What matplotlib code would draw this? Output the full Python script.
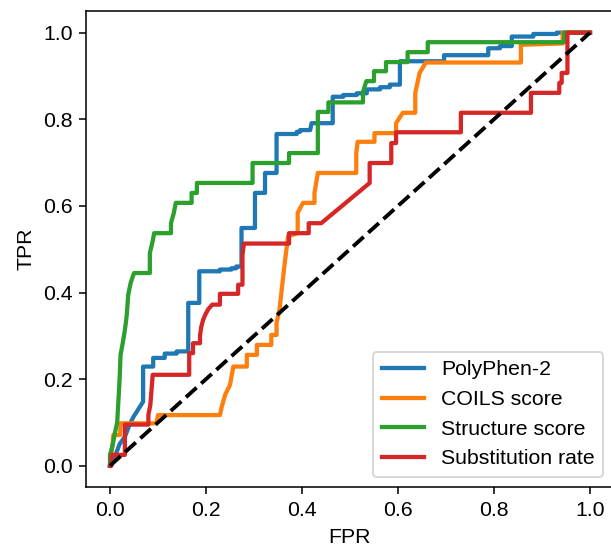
import matplotlib
matplotlib.use("Agg")
import matplotlib.pyplot as plt

plt.rcParams['font.family'] = ['Liberation Sans', 'DejaVu Sans']
plt.rcParams['font.size'] = 11

# PolyPhen-2
poly_fpr = [0.0, 0.010, 0.020, 0.031, 0.042, 0.049, 0.069, 0.069, 0.090, 0.090, 0.114, 0.114,
            0.139, 0.139, 0.163, 0.163, 0.186, 0.186, 0.229, 0.229, 0.253, 0.253, 0.263, 0.263,
            0.274, 0.274, 0.302, 0.302, 0.323, 0.323, 0.347, 0.347, 0.389, 0.389, 0.396, 0.396,
            0.417, 0.420, 0.464, 0.464, 0.486, 0.486, 0.514, 0.514, 0.535, 0.535, 0.5625, 0.5625,
            0.583, 0.583, 0.604, 0.604, 0.696, 0.696, 0.788, 0.788, 0.8125, 0.8125, 0.837, 0.837,
            0.882, 0.882, 0.931, 0.931, 1.0]
poly_tpr = [0.0, 0.020, 0.050, 0.067, 0.098, 0.113, 0.148, 0.229, 0.229, 0.249, 0.249, 0.259,
            0.259, 0.264, 0.264, 0.376, 0.376, 0.449, 0.449, 0.453, 0.453, 0.456, 0.456, 0.460,
            0.460, 0.549, 0.549, 0.630, 0.630, 0.676, 0.676, 0.766, 0.766, 0.771, 0.771, 0.775,
            0.775, 0.791, 0.791, 0.852, 0.852, 0.856, 0.856, 0.860, 0.860, 0.869, 0.869, 0.874,
            0.874, 0.880, 0.880, 0.934, 0.934, 0.948, 0.948, 0.964, 0.964, 0.969, 0.969, 0.991,
            0.991, 0.997, 0.997, 1.0, 1.0]

# COILS score
coils_fpr = [0.0, 0.002, 0.005, 0.007, 0.021, 0.022, 0.097, 0.100, 0.229, 0.233, 0.240, 0.250,
             0.257, 0.285, 0.285, 0.306, 0.306, 0.336, 0.336, 0.347, 0.347, 0.353, 0.357, 0.364,
             0.371, 0.391, 0.391, 0.402, 0.426, 0.426, 0.433, 0.513, 0.513, 0.516, 0.551, 0.551,
             0.596, 0.596, 0.610, 0.636, 0.636, 0.645, 0.658, 0.856, 0.856, 0.943, 0.943, 1.0]
coils_tpr = [0.0, 0.020, 0.045, 0.071, 0.071, 0.098, 0.098, 0.117, 0.117, 0.137, 0.164, 0.187,
             0.229, 0.229, 0.256, 0.256, 0.279, 0.279, 0.302, 0.302, 0.330, 0.360, 0.399, 0.468,
             0.530, 0.537, 0.584, 0.607, 0.607, 0.630, 0.676, 0.676, 0.722, 0.748, 0.748, 0.768,
             0.768, 0.791, 0.815, 0.815, 0.861, 0.907, 0.931, 0.931, 0.972, 0.975, 1.0, 1.0]

# Structure score
struct_fpr = [0.0, 0.0, 0.006, 0.010, 0.015, 0.017, 0.020, 0.022, 0.026, 0.030, 0.033, 0.035,
              0.038, 0.043, 0.050, 0.083, 0.083, 0.088, 0.092, 0.127, 0.127, 0.133, 0.137, 0.170,
              0.170, 0.181, 0.181, 0.297, 0.297, 0.373, 0.373, 0.433, 0.433, 0.455, 0.455, 0.527,
              0.527, 0.534, 0.550, 0.550, 0.575, 0.575, 0.620, 0.620, 0.662, 0.662, 0.946, 0.946,
              1.0]
struct_tpr = [0.0, 0.025, 0.050, 0.075, 0.100, 0.140, 0.200, 0.256, 0.280, 0.306, 0.330, 0.349,
              0.395, 0.422, 0.445, 0.445, 0.491, 0.514, 0.537, 0.537, 0.560, 0.584, 0.607, 0.607,
              0.630, 0.630, 0.653, 0.653, 0.699, 0.699, 0.722, 0.722, 0.817, 0.817, 0.839, 0.839,
              0.863, 0.888, 0.888, 0.911, 0.911, 0.932, 0.932, 0.955, 0.955, 0.978, 0.978, 1.0,
              1.0]

# Substitution rate
subst_fpr = [0.0, 0.003, 0.003, 0.031, 0.031, 0.080, 0.080, 0.084, 0.089, 0.165, 0.165, 0.173,
             0.173, 0.1875, 0.1875, 0.190, 0.194, 0.199, 0.205, 0.213, 0.229, 0.229, 0.267, 0.267,
             0.276, 0.276, 0.279, 0.373, 0.373, 0.414, 0.414, 0.440, 0.541, 0.541, 0.586, 0.586,
             0.596, 0.596, 0.731, 0.731, 0.877, 0.877, 0.936, 0.936, 0.941, 0.941, 0.953, 0.953,
             1.0]
subst_tpr = [0.0, 0.0, 0.025, 0.025, 0.095, 0.095, 0.118, 0.140, 0.210, 0.210, 0.260, 0.260,
             0.283, 0.283, 0.300, 0.320, 0.337, 0.350, 0.362, 0.372, 0.372, 0.397, 0.397, 0.418,
             0.418, 0.487, 0.513, 0.513, 0.537, 0.537, 0.560, 0.560, 0.653, 0.699, 0.699, 0.745,
             0.745, 0.770, 0.770, 0.815, 0.815, 0.861, 0.861, 0.884, 0.884, 0.907, 0.907, 1.0,
             1.0]

labels = ['PolyPhen-2', 'COILS score', 'Structure score', 'Substitution rate']
curves = [(poly_fpr, poly_tpr), (coils_fpr, coils_tpr),
          (struct_fpr, struct_tpr), (subst_fpr, subst_tpr)]
colors = ['C0', 'C1', 'C2', 'C3']

dpi = 139
fig = plt.figure(figsize=(611 / dpi, 547 / dpi), dpi=dpi)
ax = fig.add_axes([86 / 611, (547 - 487.4) / 547, 528 / 611, 476.4 / 547])

for (f, t), lab, c in zip(curves, labels, colors):
    ax.plot(f, t, color=c, lw=2.2, label=lab)
ax.plot([0, 1], [0, 1], 'k--', lw=2)

ax.set_xlim(-0.05, 1.05)
ax.set_ylim(-0.05, 1.05)
ax.set_xticks([0.0, 0.2, 0.4, 0.6, 0.8, 1.0])
ax.set_yticks([0.0, 0.2, 0.4, 0.6, 0.8, 1.0])
ax.set_xlabel('FPR')
ax.set_ylabel('TPR')
ax.legend(loc='lower right')

fig.savefig('out.png', dpi=dpi)
